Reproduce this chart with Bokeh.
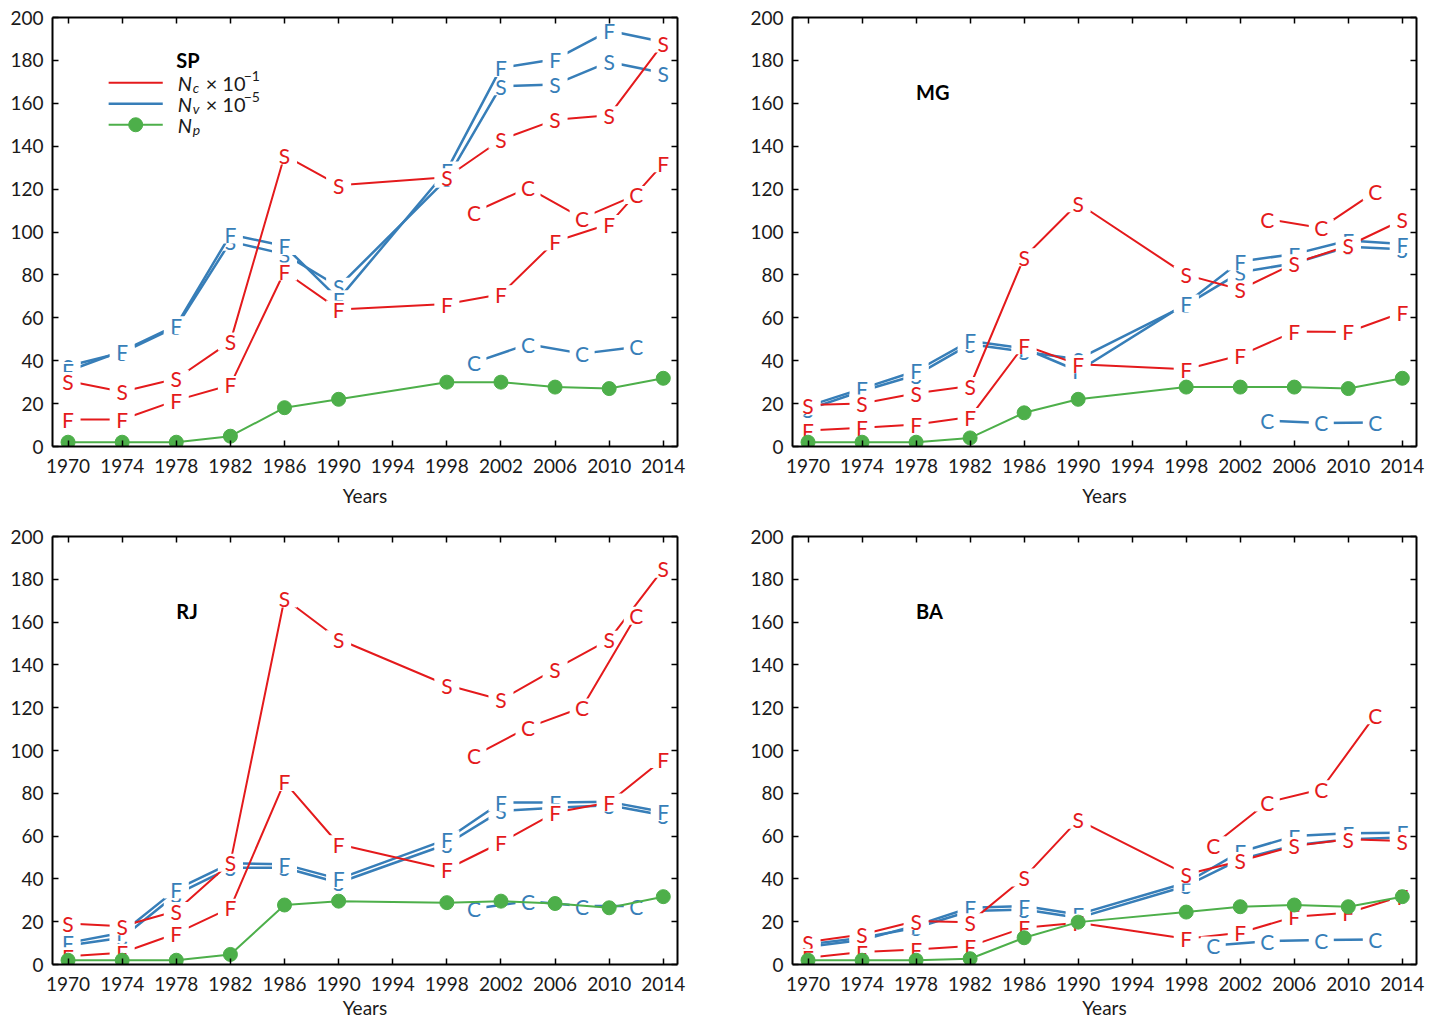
from bokeh.plotting import figure
from bokeh.layouts import gridplot
from bokeh.models import Range1d, LinearAxis, FixedTicker, Label
from bokeh.core.properties import value
from bokeh.embed import file_html
from bokeh.resources import INLINE

FONT = "Lato"
RED = "#e41a1c"
BLUE = "#377eb8"
GREEN = "#4daf4a"

YEARS = [1970, 1974, 1978, 1982, 1986, 1990, 1998, 2002, 2006, 2010, 2014]
C_YEARS = [2000, 2004, 2008, 2012]
C_YEARS_MG = [2004, 2008, 2012]
X_TICKS = [1970, 1974, 1978, 1982, 1986, 1990, 1994, 1998, 2002, 2006, 2010, 2014]
Y_TICKS = [0, 20, 40, 60, 80, 100, 120, 140, 160, 180, 200]

# ---- SP ----
SP_NC_S = [30.5, 25.5, 31.6, 48.9, 135.7, 121.8, 125.5, 143.0, 152.3, 154.4, 187.9]
SP_NC_F = [12.6, 12.6, 21.5, 28.7, 81.6, 63.9, 66.4, 71.0, 95.6, 103.7, 132.0]
SP_NC_C = [109.2, 120.6, 106.5, 117.3]
SP_NV_S = [37.5, 43.8, 55.8, 95.5, 89.7, 74.5, 124.8, 168.0, 168.8, 179.3, 174.1]
SP_NV_F = [35.2, 44.5, 56.5, 98.8, 93.5, 68.7, 128.7, 176.5, 180.5, 193.8, 188.6]
SP_NV_C = [39.1, 47.7, 43.3, 46.4]
SP_NP = [2.0, 2.0, 2.0, 4.8, 18.1, 22.0, 30.0, 30.0, 27.7, 27.0, 31.8]

# ---- MG ----
MG_NC_S = [19.3, 20.0, 24.8, 28.2, 88.2, 113.4, 80.0, 73.2, 85.4, 93.6, 105.6]
MG_NC_F = [7.5, 8.7, 10.3, 13.7, 47.2, 38.3, 36.0, 42.5, 53.6, 53.4, 62.5]
MG_NC_C = [106.0, 101.9, 118.8]
MG_NV_S = [17.3, 25.9, 33.3, 47.7, 44.2, 40.7, 66.0, 81.2, 85.4, 93.1, 92.0]
MG_NV_F = [18.8, 27.0, 35.2, 49.2, 45.8, 35.2, 66.7, 86.3, 89.7, 96.0, 94.4]
MG_NV_C = [12.1, 11.0, 11.2]
MG_NP = [2.0, 2.0, 2.0, 4.0, 15.7, 22.0, 27.7, 27.7, 27.7, 27.0, 31.8]

# ---- RJ ----
RJ_NC_S = [19.2, 17.9, 25.0, 47.6, 171.0, 152.0, 130.6, 123.7, 138.0, 151.8, 184.9]
RJ_NC_F = [3.9, 5.5, 14.5, 26.5, 85.3, 56.2, 44.5, 57.0, 71.0, 75.7, 96.0]
RJ_NC_C = [97.5, 110.8, 120.1, 163.0]
RJ_NV_S = [8.9, 12.5, 32.8, 45.2, 45.2, 38.2, 56.2, 71.8, 73.3, 74.4, 69.7]
RJ_NV_F = [10.1, 14.8, 35.1, 47.3, 46.8, 40.0, 58.5, 75.7, 75.7, 76.0, 71.3]
RJ_NV_C = [26.0, 29.6, 27.3, 27.3]
RJ_NP = [2.0, 2.0, 2.0, 4.7, 27.8, 29.6, 28.9, 29.6, 28.5, 26.5, 31.7]

# ---- BA ----
BA_NC_S = [10.5, 14.0, 20.3, 19.8, 40.6, 67.6, 42.1, 48.4, 55.4, 58.5, 57.7]
BA_NC_F = [3.1, 5.8, 7.0, 8.6, 17.2, 19.5, 12.0, 14.8, 22.3, 24.2, 32.0]
BA_NC_C = [55.7, 75.7, 81.9, 116.5]
BA_NV_S = [9.4, 12.5, 17.2, 25.0, 25.7, 21.8, 36.7, 49.1, 55.7, 58.5, 59.3]
BA_NV_F = [8.3, 11.4, 18.3, 26.5, 27.3, 23.4, 38.2, 52.6, 60.0, 61.3, 61.6]
BA_NV_C = [8.9, 10.9, 11.4, 11.7]
BA_NP = [2.0, 2.0, 2.0, 2.7, 12.5, 19.8, 24.5, 27.0, 27.8, 27.0, 31.7]

X_LO, X_HI = 1968.85, 2015.05
TXT = "#1a1a1a"


def style_axis(ax, labels=True, standoff=8):
    ax.axis_line_color = "black"
    ax.axis_line_width = 2
    ax.major_tick_in = 6
    ax.major_tick_out = 0
    ax.major_tick_line_width = 1.5
    ax.major_tick_line_color = "black"
    ax.minor_tick_line_color = None
    if labels:
        ax.major_label_text_font = FONT
        ax.major_label_text_font_size = "19px"
        ax.major_label_text_color = TXT
        ax.major_label_standoff = standoff
    else:
        ax.major_label_text_font_size = "0px"
        ax.major_label_text_color = None
        ax.major_label_standoff = 0


def marker_series(p, xs, ys, letter, color, lw):
    # line, then a blank box under each point (gnuplot-style gap), then the letter
    p.line(xs, ys, line_color=color, line_width=lw)
    p.rect(x=xs, y=ys, width=25, height=18, width_units="screen", height_units="screen",
           fill_color="white", line_color=None)
    p.text(x=xs, y=ys, text=[letter] * len(xs), text_align="center",
           text_baseline="middle", text_font=value(FONT), text_font_size="21px",
           text_color=color)


def make_panel(name, nc_s, nc_f, nc_c, nc_cy, nv_s, nv_f, nv_c, nv_cy, npv,
               width, height, right_b, bottom_b, label_gap, title_y, legend=False):
    p = figure(width=width, height=height, x_range=Range1d(X_LO, X_HI),
               y_range=Range1d(0, 200), output_backend="svg", toolbar_location=None,
               x_axis_type=None, y_axis_type=None,
               min_border_left=52, min_border_right=right_b,
               min_border_top=17, min_border_bottom=bottom_b)
    p.outline_line_color = None
    p.background_fill_color = "white"
    p.border_fill_color = "white"

    xb = LinearAxis(ticker=FixedTicker(ticks=X_TICKS), axis_label="Years")
    style_axis(xb, True, 12)
    xb.axis_label_text_font = FONT
    xb.axis_label_text_font_size = "19px"
    xb.axis_label_text_font_style = "normal"
    xb.axis_label_text_color = TXT
    xb.axis_label_standoff = label_gap
    p.add_layout(xb, "below")
    yl = LinearAxis(ticker=FixedTicker(ticks=Y_TICKS))
    style_axis(yl, True, 9)
    p.add_layout(yl, "left")
    xt = LinearAxis(ticker=FixedTicker(ticks=X_TICKS))
    style_axis(xt, False)
    p.add_layout(xt, "above")
    yr = LinearAxis(ticker=FixedTicker(ticks=Y_TICKS))
    style_axis(yr, False)
    p.add_layout(yr, "right")

    marker_series(p, YEARS, nv_s, "S", BLUE, 2.5)
    marker_series(p, YEARS, nv_f, "F", BLUE, 2.5)
    marker_series(p, YEARS, nc_s, "S", RED, 2)
    marker_series(p, YEARS, nc_f, "F", RED, 2)
    marker_series(p, nc_cy, nc_c, "C", RED, 2)
    marker_series(p, nv_cy, nv_c, "C", BLUE, 2.5)
    p.line(YEARS, npv, line_color=GREEN, line_width=2)
    p.scatter(YEARS, npv, size=14, fill_color=GREEN, line_color=GREEN)

    p.add_layout(Label(x=1978.0, y=title_y, text=name, text_font=FONT,
                       text_font_size="20px", text_font_style="bold",
                       text_baseline="middle", text_color="black"))

    if legend:
        leg_x = [1973.0, 1977.0]
        rows = [(169.6, RED, "c", "\u22121"), (159.8, BLUE, "v", "\u22125"), (150.0, GREEN, "p", None)]
        for ly, col, sub, sup in rows:
            p.line(leg_x, [ly, ly], line_color=col, line_width=2.5 if col == BLUE else 2)
            if col == GREEN:
                p.scatter([sum(leg_x) / 2], [ly], size=14, fill_color=GREEN, line_color=GREEN)
            p.add_layout(Label(x=1978.1, y=ly, text="N", text_font=FONT, text_font_size="20px",
                               text_font_style="italic", text_baseline="middle", text_color=TXT))
            p.add_layout(Label(x=1978.1, y=ly, x_offset=15, y_offset=-5, text=sub, text_font=FONT,
                               text_font_size="14px", text_font_style="italic",
                               text_baseline="middle", text_color=TXT))
            if sup is not None:
                p.add_layout(Label(x=1978.1, y=ly, x_offset=28, text="\u00d7 10", text_font=FONT,
                                   text_font_size="20px", text_baseline="middle", text_color=TXT))
                p.add_layout(Label(x=1978.1, y=ly, x_offset=66, y_offset=7, text=sup, text_font=FONT,
                                   text_font_size="14px", text_baseline="middle", text_color=TXT))
    return p


p1 = make_panel("SP", SP_NC_S, SP_NC_F, SP_NC_C, C_YEARS, SP_NV_S, SP_NV_F, SP_NV_C, C_YEARS, SP_NP,
                740, 519, 63, 73, 8, 180.0, legend=True)
p2 = make_panel("MG", MG_NC_S, MG_NC_F, MG_NC_C, C_YEARS_MG, MG_NV_S, MG_NV_F, MG_NV_C, C_YEARS_MG, MG_NP,
                695, 519, 19, 73, 8, 165.4)
p3 = make_panel("RJ", RJ_NC_S, RJ_NC_F, RJ_NC_C, C_YEARS, RJ_NV_S, RJ_NV_F, RJ_NV_C, C_YEARS, RJ_NP,
                740, 504, 63, 59, 2, 165.4)
p4 = make_panel("BA", BA_NC_S, BA_NC_F, BA_NC_C, C_YEARS, BA_NV_S, BA_NV_F, BA_NV_C, C_YEARS, BA_NP,
                695, 504, 19, 59, 2, 165.4)

grid = gridplot([[p1, p2], [p3, p4]], toolbar_location=None)
open("out.html", "w").write(file_html(grid, INLINE))
